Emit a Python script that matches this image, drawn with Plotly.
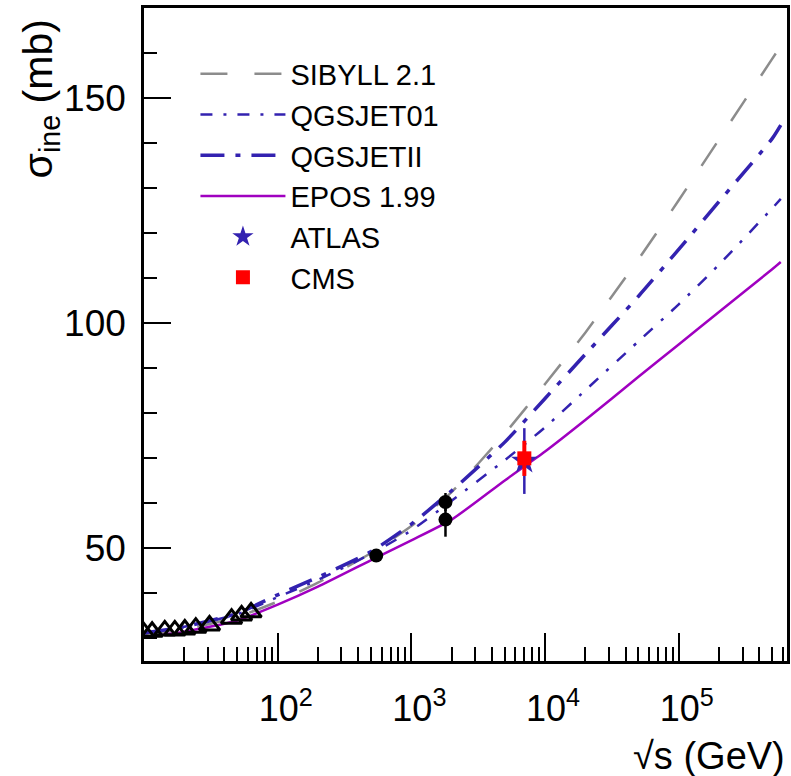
import plotly.graph_objects as go

# Model predictions: inelastic p-p cross section (mb) vs sqrt(s) (GeV)
sqrt_s_model = [10, 20, 50, 100, 200, 500, 1000, 2000, 5000, 1e4, 2e4, 5e4,
                1e5, 2e5, 5e5, 5.8e5]
sibyll = [31.0, 32.0, 34.8, 38.2, 42.4, 49.0, 55.0, 62.5, 75.5, 86.5, 97.9,
          114.2, 127.3, 140.8, 158.7, 161.6]
qgsjet01 = [31.2, 32.6, 35.4, 39.2, 43.0, 48.8, 54.0, 60.6, 69.6, 76.9, 85.1,
            96.0, 104.2, 113.0, 125.5, 127.6]
qgsjet2 = [31.2, 32.6, 35.6, 39.7, 43.6, 49.3, 55.4, 62.8, 73.6, 83.3, 93.1,
           106.0, 116.4, 127.0, 141.0, 144.0]
epos = [30.3, 31.5, 34.0, 37.5, 41.5, 47.4, 51.8, 56.4, 65.1, 71.5, 78.5,
        88.1, 95.3, 102.5, 112.0, 113.6]

# Low-energy accelerator data (open triangles)
sqrt_s_low = [10.0, 11.5, 14.3, 17.0, 20.2, 24.4, 30.9, 45.2, 53.7, 63.2]
sigma_low = [31.3, 31.5, 31.8, 31.8, 32.0, 32.4, 32.9, 34.4, 35.1, 35.8]

# Collider data (filled circles)
sqrt_s_coll = [546, 1800, 1800]
sigma_coll = [48.4, 60.3, 56.4]
err_coll = [1.0, 2.0, 3.8]

# LHC measurements at 7 TeV
atlas_x, atlas_y, atlas_err = [7000], [69.4], [7.3]
cms_x, cms_y, cms_err = [7000], [70.0], [3.9]

# Axis ticks
x_major = [1e2, 1e3, 1e4, 1e5]
x_major_text = ["10<sup>2</sup>", "10<sup>3</sup>", "10<sup>4</sup>", "10<sup>5</sup>"]
x_minor = [m * 10 ** d for d in range(1, 6) for m in range(2, 10)]

FONT = "Liberation Sans, Arial, Helvetica, sans-serif"
BLUE = "#3322b0"
PURPLE = "#a000c0"
GREY = "#8c8c8c"

fig = go.Figure()

fig.add_trace(go.Scatter(
    x=sqrt_s_model, y=sibyll, mode="lines", name="SIBYLL 2.1",
    line=dict(color=GREY, width=2.5, dash="27px,27px", shape="spline", smoothing=0.6)))
fig.add_trace(go.Scatter(
    x=sqrt_s_model, y=qgsjet01, mode="lines", name="QGSJET01",
    line=dict(color=BLUE, width=2.5, dash="12px,11px,3px,11px", shape="spline", smoothing=0.6)))
fig.add_trace(go.Scatter(
    x=sqrt_s_model, y=qgsjet2, mode="lines", name="QGSJETII",
    line=dict(color=BLUE, width=3.5, dash="24px,11px,5px,11px", shape="spline", smoothing=0.6)))
fig.add_trace(go.Scatter(
    x=sqrt_s_model, y=epos, mode="lines", name="EPOS 1.99",
    line=dict(color=PURPLE, width=2.5, shape="spline", smoothing=0.6)))

fig.add_trace(go.Scatter(
    x=sqrt_s_low, y=sigma_low, mode="markers", showlegend=False,
    marker=dict(symbol="triangle-up-open", size=18, color="black",
                line=dict(width=3, color="black"))))
fig.add_trace(go.Scatter(
    x=sqrt_s_coll, y=sigma_coll, mode="markers", showlegend=False,
    marker=dict(symbol="circle", size=14, color="black"),
    error_y=dict(type="data", array=err_coll, color="black", thickness=2.5, width=0)))

fig.add_trace(go.Scatter(
    x=atlas_x, y=atlas_y, mode="markers", name="ATLAS",
    marker=dict(symbol="star", size=20, color=BLUE),
    error_y=dict(type="data", array=atlas_err, color=BLUE, thickness=2.5, width=0)))
fig.add_trace(go.Scatter(
    x=cms_x, y=cms_y, mode="markers", name="CMS",
    marker=dict(symbol="square", size=14, color="#ff0000"),
    error_y=dict(type="data", array=cms_err, color="#ff0000", thickness=4, width=0)))

fig.update_layout(
    width=791, height=776,
    margin=dict(l=144, r=1, t=8, b=115),
    paper_bgcolor="white", plot_bgcolor="white",
    font=dict(family=FONT, color="black"),
    showlegend=True,
    legend=dict(x=0.08, y=0.938, xanchor="left", yanchor="top",
                bgcolor="rgba(0,0,0,0)", font=dict(size=29, family=FONT),
                itemwidth=85, tracegroupgap=0),
    xaxis=dict(
        type="log", range=[1, 5.81],
        showline=True, linecolor="black", linewidth=2.5, mirror=True,
        showgrid=False, zeroline=False,
        ticks="inside", ticklen=28, tickwidth=1.5, tickcolor="black",
        tickmode="array", tickvals=x_major, ticktext=x_major_text,
        tickfont=dict(size=36, family=FONT), ticklabelstandoff=14,
        ticklabelshift=8,
        minor=dict(tickmode="array", tickvals=x_minor, ticks="inside",
                   ticklen=14, tickwidth=1.5, tickcolor="black", showgrid=False),
    ),
    yaxis=dict(
        range=[25, 170],
        showline=True, linecolor="black", linewidth=2.5, mirror=True,
        showgrid=False, zeroline=False,
        ticks="inside", ticklen=27, tickwidth=1.5, tickcolor="black",
        tick0=0, dtick=50,
        tickfont=dict(size=37, family=FONT), ticklabelstandoff=8,
        minor=dict(tick0=0, dtick=10, ticks="inside", ticklen=13,
                   tickwidth=1.5, tickcolor="black", showgrid=False),
    ),
    annotations=[
        dict(text="σ<sub>ine</sub> (mb)", textangle=-90, showarrow=False,
             xref="paper", yref="paper", x=-0.16, y=0.985,
             xanchor="center", yanchor="top", font=dict(size=41, family=FONT)),
        dict(text="√s (GeV)", showarrow=False,
             xref="paper", yref="paper", x=1.0, y=-0.145,
             xanchor="right", yanchor="middle", font=dict(size=38, family=FONT)),
    ],
)

fig.write_html("out.html")
